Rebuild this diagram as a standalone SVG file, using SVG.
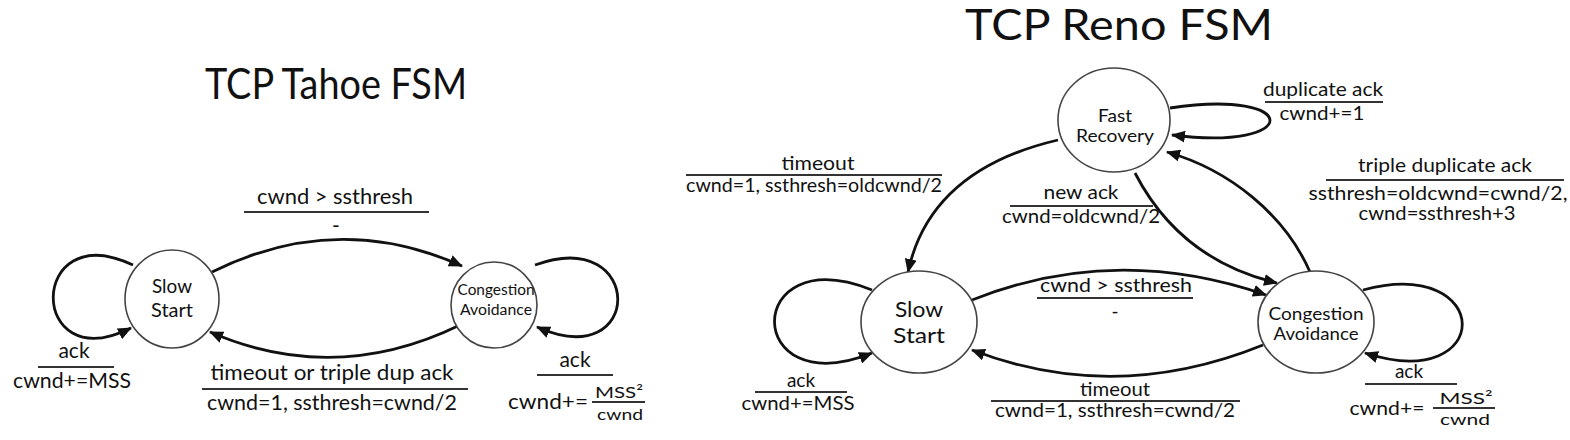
<svg xmlns="http://www.w3.org/2000/svg" width="1570" height="440" viewBox="0 0 1570 440">
<style>
text{font-family:Lato,"Liberation Sans",sans-serif;fill:#111;text-anchor:middle}
.title{font-size:42px}
.st{fill:#fff;stroke:#444;stroke-width:1.6}
.lbl{font-size:21px}
.lbs{font-size:19px}
.frac{font-size:16px}
.bar{stroke:#333;stroke-width:2}
.e{fill:none;stroke:#111;stroke-width:2.8}
</style>
<defs>
<marker id="ah" markerUnits="userSpaceOnUse" markerWidth="16" markerHeight="12" refX="13" refY="6" orient="auto">
<path d="M0,0 L14,6 L0,12 Z" fill="#111"/>
</marker>
</defs>
<rect width="1570" height="440" fill="#fff"/>

<text class="title" x="336" y="99" textLength="262" lengthAdjust="spacingAndGlyphs">TCP Tahoe FSM</text>
<text class="title" x="1119" y="40" textLength="308" lengthAdjust="spacingAndGlyphs">TCP Reno FSM</text>

<g id="connectors">
<!-- Tahoe -->
<path class="e" d="M212,272 Q337,210 462,266" marker-end="url(#ah)"/>
<path class="e" d="M460,325 Q335,386 210,332" marker-end="url(#ah)"/>
<path class="e" d="M133,265 C27,215 27,380 131,328" marker-end="url(#ah)"/>
<path class="e" d="M535,265 C645,225 645,375 537,327" marker-end="url(#ah)"/>
<!-- Reno -->
<path class="e" d="M1170,108 C1303,88 1303,152 1172,135" marker-end="url(#ah)"/>
<path class="e" d="M1058,140 Q930,170 908,272" marker-end="url(#ah)"/>
<path class="e" d="M1135,173 Q1180,260 1277,283" marker-end="url(#ah)"/>
<path class="e" d="M1310,272 C1285,215 1230,170 1167,152" marker-end="url(#ah)"/>
<path class="e" d="M972,300 Q1115,243 1266,295" marker-end="url(#ah)"/>
<path class="e" d="M1263,345 Q1115,405 972,350" marker-end="url(#ah)"/>
<path class="e" d="M872,290 C742,238 742,405 872,353" marker-end="url(#ah)"/>
<path class="e" d="M1363,290 C1495,255 1495,395 1365,353" marker-end="url(#ah)"/>
</g>

<g id="labels">
<!-- Tahoe -->
<text class="lbl" x="335" y="204" textLength="156" lengthAdjust="spacingAndGlyphs">cwnd &gt; ssthresh</text>
<line class="bar" x1="244" y1="212" x2="429" y2="212"/>
<text class="lbl" x="336" y="233">-</text>
<text class="lbl" x="332" y="380" textLength="243" lengthAdjust="spacingAndGlyphs">timeout or triple dup ack</text>
<line class="bar" x1="202" y1="389" x2="468" y2="389"/>
<text class="lbl" x="332" y="410" textLength="250" lengthAdjust="spacingAndGlyphs">cwnd=1, ssthresh=cwnd/2</text>
<text class="lbl" x="74" y="358">ack</text>
<line class="bar" x1="38" y1="367" x2="114" y2="367"/>
<text class="lbl" x="72" y="388" textLength="118" lengthAdjust="spacingAndGlyphs">cwnd+=MSS</text>
<text class="lbl" x="575" y="367">ack</text>
<line class="bar" x1="537" y1="375" x2="613" y2="375"/>
<text class="lbl" x="548" y="409" textLength="80" lengthAdjust="spacingAndGlyphs">cwnd+=</text>
<text class="frac" x="619" y="398" textLength="48" lengthAdjust="spacingAndGlyphs">MSS²</text>
<line class="bar" x1="592" y1="402" x2="645" y2="402"/>
<text class="frac" x="620" y="420" textLength="46" lengthAdjust="spacingAndGlyphs">cwnd</text>
<!-- Reno -->
<text class="lbs" x="1323" y="96" textLength="120" lengthAdjust="spacingAndGlyphs">duplicate ack</text>
<line class="bar" x1="1265" y1="102" x2="1383" y2="102"/>
<text class="lbs" x="1322" y="120" textLength="85" lengthAdjust="spacingAndGlyphs">cwnd+=1</text>
<text class="lbs" x="818" y="170" textLength="73" lengthAdjust="spacingAndGlyphs">timeout</text>
<line class="bar" x1="686" y1="175" x2="942" y2="175"/>
<text class="lbs" x="814" y="192" textLength="256" lengthAdjust="spacingAndGlyphs">cwnd=1, ssthresh=oldcwnd/2</text>
<text class="lbs" x="1081" y="199" textLength="75" lengthAdjust="spacingAndGlyphs">new ack</text>
<line class="bar" x1="1010" y1="206" x2="1153" y2="206"/>
<text class="lbs" x="1081" y="223" textLength="158" lengthAdjust="spacingAndGlyphs">cwnd=oldcwnd/2</text>
<text class="lbs" x="1445" y="172" textLength="174" lengthAdjust="spacingAndGlyphs">triple duplicate ack</text>
<line class="bar" x1="1326" y1="180" x2="1564" y2="180"/>
<text class="lbs" x="1438" y="200" textLength="259" lengthAdjust="spacingAndGlyphs">ssthresh=oldcwnd=cwnd/2,</text>
<text class="lbs" x="1437" y="220" textLength="157" lengthAdjust="spacingAndGlyphs">cwnd=ssthresh+3</text>
<text class="lbs" x="1116" y="292" textLength="152" lengthAdjust="spacingAndGlyphs">cwnd &gt; ssthresh</text>
<line class="bar" x1="1037" y1="298" x2="1193" y2="298"/>
<text class="lbs" x="1115" y="318">-</text>
<text class="lbs" x="1115" y="396" textLength="70" lengthAdjust="spacingAndGlyphs">timeout</text>
<line class="bar" x1="991" y1="401" x2="1240" y2="401"/>
<text class="lbs" x="1115" y="417" textLength="240" lengthAdjust="spacingAndGlyphs">cwnd=1, ssthresh=cwnd/2</text>
<text class="lbs" x="801" y="387">ack</text>
<line class="bar" x1="755" y1="392" x2="847" y2="392"/>
<text class="lbs" x="798" y="410" textLength="113" lengthAdjust="spacingAndGlyphs">cwnd+=MSS</text>
<text class="lbs" x="1409" y="378">ack</text>
<line class="bar" x1="1365" y1="384" x2="1457" y2="384"/>
<text class="lbs" x="1387" y="415" textLength="75" lengthAdjust="spacingAndGlyphs">cwnd+=</text>
<text class="frac" x="1466" y="404" textLength="53" lengthAdjust="spacingAndGlyphs">MSS²</text>
<line class="bar" x1="1433" y1="408" x2="1495" y2="408"/>
<text class="frac" x="1465" y="425" textLength="50" lengthAdjust="spacingAndGlyphs">cwnd</text>
</g>

<g id="tahoe-slow-start">
<ellipse class="st" cx="172" cy="299" rx="47" ry="49"/>
<text x="172" y="293" font-size="19" textLength="40" lengthAdjust="spacingAndGlyphs">Slow</text>
<text x="172" y="317" font-size="19" textLength="42" lengthAdjust="spacingAndGlyphs">Start</text>
</g>
<g id="tahoe-congestion-avoidance">
<ellipse class="st" cx="494" cy="305" rx="43" ry="43"/>
<text x="496" y="295" font-size="14.5" textLength="77" lengthAdjust="spacingAndGlyphs">Congestion</text>
<text x="496" y="315" font-size="14.5" textLength="72" lengthAdjust="spacingAndGlyphs">Avoidance</text>
</g>
<g id="reno-fast-recovery">
<ellipse class="st" cx="1114" cy="120" rx="56" ry="52"/>
<text x="1115" y="122" font-size="18" textLength="34" lengthAdjust="spacingAndGlyphs">Fast</text>
<text x="1115" y="142" font-size="18" textLength="78" lengthAdjust="spacingAndGlyphs">Recovery</text>
</g>
<g id="reno-slow-start">
<ellipse class="st" cx="919" cy="322" rx="58" ry="51"/>
<text x="919" y="317" font-size="21" textLength="48" lengthAdjust="spacingAndGlyphs">Slow</text>
<text x="919" y="343" font-size="21" textLength="52" lengthAdjust="spacingAndGlyphs">Start</text>
</g>
<g id="reno-congestion-avoidance">
<ellipse class="st" cx="1316" cy="322" rx="58" ry="51"/>
<text x="1316" y="320" font-size="17" textLength="95" lengthAdjust="spacingAndGlyphs">Congestion</text>
<text x="1316" y="340" font-size="17" textLength="85" lengthAdjust="spacingAndGlyphs">Avoidance</text>
</g>
</svg>
